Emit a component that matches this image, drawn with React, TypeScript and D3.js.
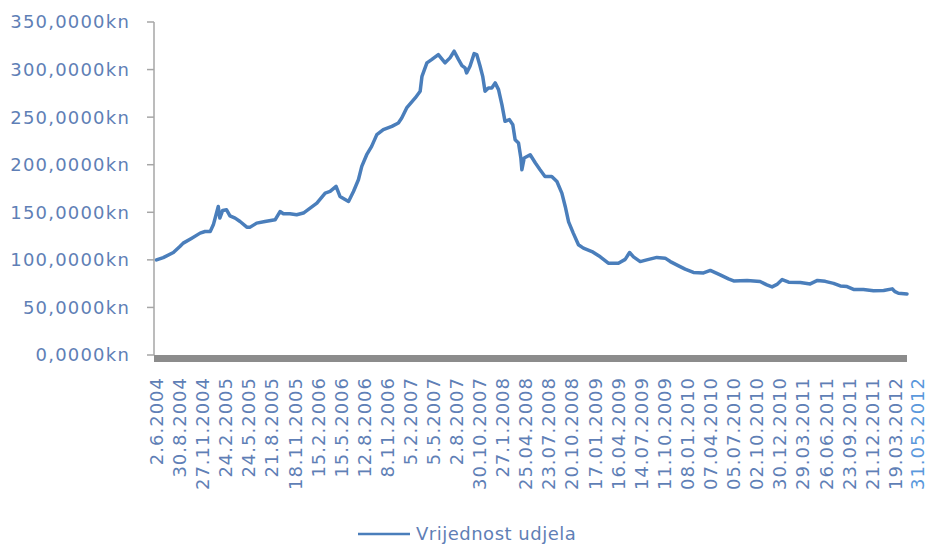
import React, { useEffect, useRef } from 'react';
import * as d3 from 'd3';

// fund unit value (kn)
const navDates = [
  '2004-06-02', '2004-06-28', '2004-08-06', '2004-08-31', '2004-09-13', '2004-10-16', '2004-11-17', '2004-12-06', '2004-12-26', '2005-01-07',
  '2005-01-26', '2005-02-01', '2005-02-12', '2005-02-27', '2005-03-12', '2005-04-01', '2005-04-20', '2005-05-16', '2005-05-29', '2005-06-23',
  '2005-07-25', '2005-09-02', '2005-09-21', '2005-10-04', '2005-10-29', '2005-11-24', '2005-12-20', '2006-01-15', '2006-02-10', '2006-03-14',
  '2006-04-02', '2006-04-25', '2006-05-10', '2006-06-12', '2006-07-01', '2006-07-20', '2006-08-02', '2006-08-21', '2006-09-09', '2006-09-29',
  '2006-10-24', '2006-11-26', '2006-12-21', '2007-01-03', '2007-01-22', '2007-02-24', '2007-03-15', '2007-03-22', '2007-04-10', '2007-04-28',
  '2007-05-24', '2007-06-19', '2007-07-08', '2007-07-24', '2007-08-10', '2007-08-23', '2007-09-04', '2007-09-10', '2007-09-23', '2007-10-09',
  '2007-10-19', '2007-11-01', '2007-11-11', '2007-11-20', '2007-12-03', '2007-12-16', '2007-12-29', '2008-01-11', '2008-01-24', '2008-02-05',
  '2008-02-22', '2008-03-06', '2008-03-15', '2008-03-28', '2008-04-06', '2008-04-10', '2008-04-19', '2008-05-12', '2008-06-01', '2008-06-19',
  '2008-07-08', '2008-08-03', '2008-08-23', '2008-09-11', '2008-09-24', '2008-10-07', '2008-10-25', '2008-11-14', '2008-12-03', '2009-01-05',
  '2009-02-06', '2009-03-09', '2009-04-17', '2009-05-13', '2009-05-30', '2009-06-14', '2009-07-10', '2009-08-04', '2009-09-12', '2009-10-14',
  '2009-11-03', '2009-12-05', '2009-12-30', '2010-01-31', '2010-03-11', '2010-04-06', '2010-05-14', '2010-06-15', '2010-07-05', '2010-08-26',
  '2010-10-15', '2010-11-10', '2010-11-30', '2010-12-19', '2011-01-08', '2011-02-02', '2011-03-19', '2011-04-26', '2011-05-24', '2011-06-23',
  '2011-07-25', '2011-08-20', '2011-09-15', '2011-10-10', '2011-11-17', '2011-12-26', '2012-02-03', '2012-03-07', '2012-03-18', '2012-03-31',
  '2012-05-03',
];

const navValues = [
  100.0, 102.4, 107.7, 114.0, 117.6, 122.8, 128.1, 129.8, 129.8, 136.8,
  156.1, 143.9, 151.9, 152.6, 146.3, 143.9, 140.3, 134.4, 134.4, 138.6,
  140.3, 142.1, 150.8, 148.4, 148.4, 147.4, 149.2, 154.4, 159.7, 170.2,
  171.9, 177.2, 166.6, 161.4, 171.9, 184.2, 198.2, 210.5, 219.3, 231.6,
  236.8, 240.3, 243.9, 249.2, 259.7, 270.2, 277.2, 292.9, 307.1, 310.5,
  315.8, 307.1, 312.3, 319.3, 310.5, 304.2, 301.8, 296.5, 303.5, 316.8,
  315.8, 303.5, 292.9, 277.2, 280.7, 280.7, 286.0, 278.9, 263.2, 245.6,
  247.4, 242.1, 226.3, 222.8, 207.1, 194.7, 207.1, 210.5, 201.8, 194.7,
  187.7, 187.7, 182.4, 170.2, 156.1, 140.0, 128.1, 115.8, 112.3, 108.7,
  103.2, 96.5, 96.5, 100.5, 107.7, 103.2, 98.2, 100.0, 102.6, 101.8,
  98.2, 93.7, 90.2, 86.8, 86.3, 88.9, 84.2, 80.0, 77.9, 78.2,
  77.2, 73.7, 71.6, 74.2, 79.3, 76.5, 76.1, 74.7, 78.4, 77.4,
  75.3, 72.6, 71.9, 68.9, 68.9, 67.6, 67.7, 69.5, 66.6, 64.9,
  64.2,
];

const xTickLabels = [
  '2.6.2004', '30.8.2004', '27.11.2004', '24.2.2005', '24.5.2005', '21.8.2005', '18.11.2005',
  '15.2.2006', '15.5.2006', '12.8.2006', '8.11.2006', '5.2.2007', '5.5.2007', '2.8.2007',
  '30.10.2007', '27.1.2008', '25.04.2008', '23.07.2008', '20.10.2008', '17.01.2009', '16.04.2009',
  '14.07.2009', '11.10.2009', '08.01.2010', '07.04.2010', '05.07.2010', '02.10.2010', '30.12.2010',
  '29.03.2011', '26.06.2011', '23.09.2011', '21.12.2011', '19.03.2012',
];
const lastLabel = '31.05.2012';

const yTicks = [0, 50, 100, 150, 200, 250, 300, 350];
const seriesName = 'Vrijednost udjela';

const W = 928;
const H = 546;
const FONT = '"DejaVu Sans", Verdana, sans-serif';
const TEXT = '#5f7fb6';
const LINE = '#4a7ebb';

const parseLabel = (s: string) => {
  const [d, m, y] = s.split('.').map(Number);
  return new Date(y, m - 1, d);
};

export default function App() {
  const svgRef = useRef<SVGSVGElement>(null);

  useEffect(() => {
    if (!svgRef.current) return;
    const svg = d3.select(svgRef.current);
    svg.selectAll('*').remove();

    const left = 154;
    const right = 907;
    const top = 22;
    const bottom = 355;

    const data = navDates.map((d, i) => ({ date: d3.timeParse('%Y-%m-%d')(d) as Date, value: navValues[i] }));

    const x = d3.scaleTime()
      .domain(d3.extent(data, d => d.date) as [Date, Date])
      .range([left + 2.5, right]);

    const y = d3.scaleLinear()
      .domain([0, 350])
      .range([bottom, top]);

    // y axis
    svg.append('line')
      .attr('x1', left).attr('x2', left)
      .attr('y1', top).attr('y2', bottom)
      .attr('stroke', '#a6a6a6').attr('stroke-width', 1.5);

    svg.selectAll('.ytick')
      .data(yTicks)
      .enter()
      .append('line')
      .attr('x1', left - 7).attr('x2', left)
      .attr('y1', d => y(d)).attr('y2', d => y(d))
      .attr('stroke', '#a6a6a6').attr('stroke-width', 1.5);

    svg.selectAll('.ylab')
      .data(yTicks)
      .enter()
      .append('text')
      .attr('x', left - 24)
      .attr('y', d => y(d))
      .attr('dy', '0.36em')
      .attr('text-anchor', 'end')
      .attr('font-family', FONT)
      .attr('font-size', 18)
      .attr('letter-spacing', 1.2)
      .attr('fill', TEXT)
      .text(d => `${d3.format('.4f')(d).replace('.', ',')}kn`);

    // thick x axis bar
    svg.append('rect')
      .attr('x', left)
      .attr('y', bottom)
      .attr('width', right - left)
      .attr('height', 7)
      .attr('fill', '#8c8c8c');

    // x labels
    svg.selectAll('.xlab')
      .data(xTickLabels)
      .enter()
      .append('text')
      .attr('transform', d => `translate(${x(parseLabel(d))},377) rotate(-90)`)
      .attr('dy', '0.36em')
      .attr('text-anchor', 'end')
      .attr('font-family', FONT)
      .attr('font-size', 18)
      .attr('letter-spacing', 1)
      .attr('fill', TEXT)
      .text(d => d);

    svg.append('text')
      .attr('transform', `translate(${right + 11},377) rotate(-90)`)
      .attr('dy', '0.36em')
      .attr('text-anchor', 'end')
      .attr('font-family', FONT)
      .attr('font-size', 18)
      .attr('letter-spacing', 1)
      .attr('fill', '#5a98dc')
      .text(lastLabel);

    // series line
    const line = d3.line<{ date: Date; value: number }>()
      .x(d => x(d.date))
      .y(d => y(d.value));

    svg.append('path')
      .datum(data)
      .attr('d', line)
      .attr('fill', 'none')
      .attr('stroke', LINE)
      .attr('stroke-width', 3.5)
      .attr('stroke-linejoin', 'round')
      .attr('stroke-linecap', 'round');

    // legend
    svg.append('line')
      .attr('x1', 358).attr('x2', 410)
      .attr('y1', 534).attr('y2', 534)
      .attr('stroke', LINE).attr('stroke-width', 2.5);

    svg.append('text')
      .attr('x', 416)
      .attr('y', 540)
      .attr('font-family', FONT)
      .attr('font-size', 18)
      .attr('letter-spacing', 0.5)
      .attr('fill', TEXT)
      .text(seriesName);
  }, []);

  return (
    <svg
      ref={svgRef}
      width={W}
      height={H}
      viewBox={`0 0 ${W} ${H}`}
      style={{ position: 'absolute', left: 0, top: 0, background: '#fff' }}
    />
  );
}
